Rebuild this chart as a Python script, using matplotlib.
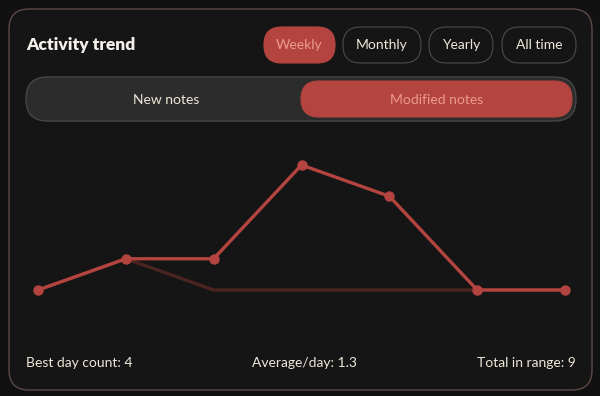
import matplotlib.pyplot as plt
from matplotlib.patches import FancyBboxPatch

# Data
days = [0, 1, 2, 3, 4, 5, 6]
modified_notes = [0, 1, 1, 4, 3, 0, 0]
new_notes = [0, 1, 0, 0, 0, 0, 0]
ranges = ["Weekly", "Monthly", "Yearly", "All time"]
modes = ["New notes", "Modified notes"]
title = "Activity trend"
stats = ["Best day count: 4", "Average/day: 1.3", "Total in range: 9"]

# Colors
BG = "#111111"
CARD = "#161515"
RED = "#b3443f"
RED_TXT = "#ec9a92"
FAINT = "#4a2421"
TXT = "#eee8da"

plt.rcParams['font.family'] = ['Lato', 'DejaVu Sans']

W, H = 600, 396
fig = plt.figure(figsize=(6, 3.96), dpi=100, facecolor=BG)

# UI layer in pixel coordinates (y down)
ui = fig.add_axes([0, 0, 1, 1])
ui.set_xlim(0, W)
ui.set_ylim(H, 0)
ui.axis('off')


def rbox(x0, y0, x1, y1, r, fc, ec, lw=1.0):
    p = FancyBboxPatch((x0 + r, y0 + r), (x1 - x0) - 2 * r, (y1 - y0) - 2 * r,
                       boxstyle=f"round,pad={r}", fc=fc, ec=ec, lw=lw)
    ui.add_patch(p)


# card
rbox(9, 9, 592, 390, 20, CARD, "#5c4a47", 1.0)

ui.text(26, 45, title, color="#f4f0ea", fontsize=12.5, fontweight='heavy', va='center', ha='left')

# range buttons
btn_x = [(264, 335), (343, 421), (429, 493), (502, 576)]
for i, (lab, (x0, x1)) in enumerate(zip(ranges, btn_x)):
    if i == 0:
        rbox(x0, 27, x1, 63, 17.5, RED, RED, 0.8)
        col = RED_TXT
    else:
        rbox(x0, 27, x1, 63, 17.5, CARD, "#4e4a48", 0.8)
        col = TXT
    ui.text((x0 + x1) / 2, 45, lab, color=col, fontsize=10, va='center', ha='center')

# mode toggle
rbox(26, 77, 576, 121, 21.5, "#2c2c2c", "#474545", 1.0)
rbox(301, 81, 572, 117, 18, RED, RED, 0.8)
ui.text(166, 100, modes[0], color=TXT, fontsize=10, va='center', ha='center')
ui.text(437, 100, modes[1], color=RED_TXT, fontsize=10, va='center', ha='center')

# footer stats
ui.text(26, 363, stats[0], color=TXT, fontsize=10, va='center', ha='left')
ui.text(304, 363, stats[1], color=TXT, fontsize=10, va='center', ha='center')
ui.text(576, 363, stats[2], color=TXT, fontsize=10, va='center', ha='right')

# chart axes: x 38..565 px, y value 0 at 290 px, 4 at 165 px
ax = fig.add_axes([38 / W, (H - 290) / H, (565 - 38) / W, (290 - 165) / H])
ax.set_xlim(0, 6)
ax.set_ylim(0, 4)
ax.axis('off')
ax.patch.set_alpha(0)

ax.plot(days, new_notes, color=FAINT, lw=2.4, solid_joinstyle='round', clip_on=False)
ax.plot(days, modified_notes, color=RED, lw=2.4, marker='o', markersize=6.5,
        solid_joinstyle='round', clip_on=False)

fig.savefig("out.png", dpi=100, facecolor=BG)
